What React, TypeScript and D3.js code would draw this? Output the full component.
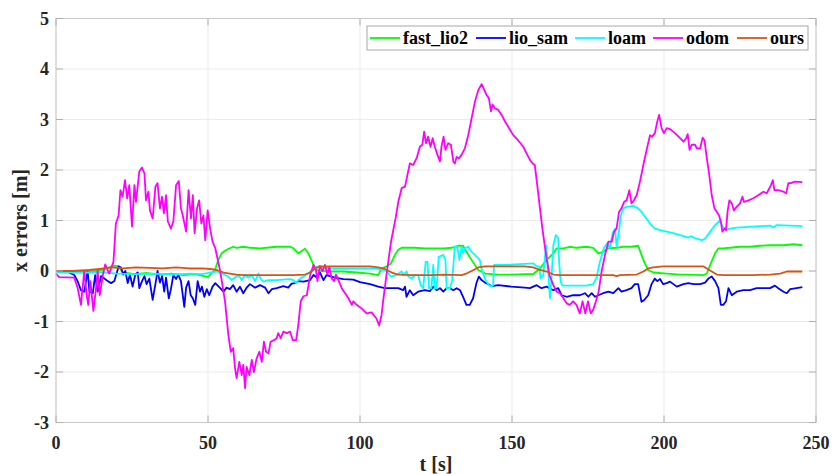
import React from "react";
import * as d3 from "d3";

// time series: [t (s), x error (m)]
const fastLio2: [number, number][] = [
  [0, 0], [5, -0.01], [10, -0.02], [14, 0], [17, 0.06], [18.6, 0.1], [20.3, 0.1], [22, -0.03], [26, -0.06],
  [30, -0.04], [34, -0.07], [38, -0.05], [42, -0.08], [46, -0.06], [50, -0.12], [51.5, -0.02], [52.3, 0.02],
  [53.4, 0.22], [54.5, 0.35], [56.1, 0.42], [58.3, 0.48], [59.4, 0.46], [61.6, 0.48], [64, 0.46], [67.1, 0.45],
  [69.3, 0.46], [72.6, 0.48], [77, 0.48], [78.1, 0.45], [79.7, 0.35], [81.9, 0.44], [83, 0.35], [84.7, 0.12],
  [85.8, 0.02], [87.4, 0], [90.1, -0.01], [94.5, -0.01], [98.9, -0.03], [103.3, -0.05], [106, -0.08],
  [107.1, 0.05], [108.7, 0.09], [110.2, 0.15], [111.5, 0.32], [112.6, 0.42], [113.7, 0.46], [118, 0.46],
  [121.3, 0.45], [124.6, 0.45], [127.9, 0.45], [130.1, 0.46], [132.3, 0.5], [133.9, 0.5], [135, 0.38],
  [136.7, 0.22], [138.9, 0.02], [141.1, -0.05], [145.5, -0.07], [149.8, -0.07], [154.2, -0.06], [157, -0.06],
  [159.2, 0.05], [161.4, 0.22], [163.6, 0.35], [164.7, 0.45], [166.9, 0.45], [169, 0.48], [171.2, 0.46],
  [174.5, 0.48], [176.7, 0.46], [178.4, 0.35], [180, 0.38], [181.7, 0.45], [184.4, 0.46], [186.6, 0.48],
  [189.3, 0.48], [191.5, 0.5], [192.6, 0.32], [193.7, 0.15], [194.8, 0.02], [196.5, -0.03], [200.9, -0.05],
  [205.3, -0.07], [207.5, -0.07], [213, -0.08], [214.1, -0.05], [215.2, 0.12], [216.8, 0.35], [217.9, 0.45],
  [219.5, 0.45], [221.7, 0.46], [225, 0.48], [228.3, 0.48], [231.6, 0.5], [234.9, 0.51], [239.3, 0.51],
  [242.6, 0.53], [245.5, 0.51],
];

const lioSam: [number, number][] = [
  [0, 0], [3.3, 0], [6, -0.08], [7.1, -0.2], [8.2, -0.38], [9.3, -0.41], [10.4, 0], [11, -0.41], [12.1, -0.44],
  [12.9, -0.08], [13.7, -0.41], [14.8, -0.1], [15.9, -0.15], [17, -0.2], [18.1, -0.24], [19.2, -0.2], [20.6, 0.09],
  [21.4, 0.07], [22.1, -0.07], [22.8, 0], [23.6, -0.24], [24.3, -0.07], [25.2, -0.31], [26.1, -0.07], [26.9, -0.03],
  [27.4, -0.34], [28.3, -0.2], [29.1, -0.1], [29.8, -0.26], [30.7, -0.15], [31.8, -0.57], [32.7, -0.26], [33.4, 0],
  [34.2, -0.23], [34.9, -0.1], [35.6, -0.41], [36.2, -0.13], [37.1, -0.54], [37.8, -0.36], [38.6, -0.08],
  [39.5, -0.16], [40.2, -0.07], [41.1, -0.2], [42.2, -0.71], [42.8, -0.33], [43.6, -0.2], [44.3, -0.48],
  [45, -0.54], [45.8, -0.67], [46.6, -0.2], [47.4, -0.41], [48, -0.31], [48.8, -0.51], [49.6, -0.36],
  [50.4, -0.48], [51.5, -0.31], [52.4, -0.24], [54, -0.34], [55.1, -0.41], [56.1, -0.33], [57.2, -0.36],
  [58.3, -0.28], [59.4, -0.41], [60.5, -0.31], [61.6, -0.44], [62.7, -0.33], [63.8, -0.26], [65.5, -0.33],
  [67.1, -0.28], [68.8, -0.33], [69.9, -0.44], [71, -0.36], [72.6, -0.34], [74.8, -0.3], [76.4, -0.33],
  [77.5, -0.25], [78.6, -0.24], [79.7, -0.2], [81.4, -0.21], [83.6, -0.18], [84.7, -0.08], [85.8, -0.13],
  [86.8, -0.03], [88, -0.18], [89, -0.08], [90.1, -0.1], [91.8, -0.13], [94.5, -0.16], [97.8, -0.17],
  [100, -0.22], [103.3, -0.26], [106, -0.31], [108.2, -0.34], [110.4, -0.34], [112.6, -0.34], [114.2, -0.38],
  [114.8, -0.31], [115.3, -0.51], [116.4, -0.38], [117.5, -0.48], [119.1, -0.41], [121.3, -0.38], [123, -0.4],
  [124.1, -0.31], [125.2, -0.38], [126.3, -0.34], [127.4, -0.41], [128.5, -0.34], [129.6, -0.34], [130.7, -0.38],
  [131.8, -0.34], [132.9, -0.38], [133.9, -0.51], [135, -0.67], [136.1, -0.67], [137.2, -0.54], [138.3, -0.24],
  [139.1, -0.11], [140, -0.18], [141.1, -0.23], [142.2, -0.26], [143.3, -0.3], [145.5, -0.28], [149.8, -0.31],
  [154.2, -0.33], [155.9, -0.34], [158.1, -0.28], [159.7, -0.34], [161.4, -0.31], [163.6, -0.38], [165.2, -0.34],
  [166.3, -0.48], [168, -0.51], [170.1, -0.48], [172.3, -0.48], [174, -0.44], [175.1, -0.51], [176.2, -0.44],
  [177.3, -0.51], [178.4, -0.48], [180, -0.44], [181.7, -0.41], [183.3, -0.44], [185, -0.34], [186, -0.41],
  [187.7, -0.38], [189.3, -0.34], [190.4, -0.26], [191.5, -0.26], [192.6, -0.61], [193.4, -0.58], [194.8, -0.48],
  [195.9, -0.26], [197, -0.15], [197.8, -0.2], [198.7, -0.16], [199.7, -0.26], [200.9, -0.24], [202, -0.21],
  [203.1, -0.26], [204.2, -0.31], [206.4, -0.26], [208, -0.24], [209.7, -0.26], [211.9, -0.26], [213.5, -0.23],
  [214.6, -0.15], [215.7, -0.11], [216.8, -0.2], [217.9, -0.34], [218.7, -0.67], [219.5, -0.67], [220.4, -0.6],
  [221.2, -0.34], [222.3, -0.48], [223.9, -0.41], [226.1, -0.38], [228.3, -0.38], [230.5, -0.34], [232.7, -0.34],
  [234.9, -0.34], [236.5, -0.29], [237.6, -0.34], [239.3, -0.41], [240.4, -0.44], [241.5, -0.36], [243.6, -0.34],
  [245.5, -0.32],
];

const loam: [number, number][] = [
  [0, -0.02], [8, -0.03], [16, -0.03], [20, -0.05], [26, -0.06], [32, -0.05], [38, -0.07], [44, -0.05],
  [48, -0.06], [50.7, -0.03], [52.9, -0.01], [54.5, -0.05], [55.6, -0.08], [56.7, -0.11], [57.8, -0.18],
  [58.9, -0.13], [60, -0.08], [61.1, -0.18], [62.2, -0.08], [63.3, -0.13], [64.4, -0.08], [65.5, -0.2],
  [66.6, -0.05], [67.3, -0.15], [68.2, -0.21], [69.9, -0.18], [72.6, -0.18], [77, -0.16], [78.1, -0.18],
  [79, -0.24], [79.7, -0.18], [81.4, -0.11], [83, -0.05], [84.7, 0.05], [86.3, 0.09], [88.5, 0.07], [90.1, 0.05],
  [94.5, 0.05], [98.9, 0.05], [103.3, 0.05], [104.9, 0.05], [107.6, 0.02], [108.7, 0], [110.2, -0.11],
  [112, -0.08], [113.7, -0.01], [114.2, -0.08], [115.3, -0.01], [115.9, -0.11], [117, -0.15], [118, -0.08],
  [119.1, -0.08], [120, -0.28], [120.8, -0.34], [121.6, 0.18], [122.2, 0.18], [122.7, -0.34], [123.5, -0.34],
  [124.1, 0.12], [124.6, -0.34], [125.2, -0.34], [125.9, 0.28], [127.4, 0.32], [128.1, 0.22], [128.5, -0.34],
  [129.6, -0.34], [130.3, -0.2], [131.2, 0.48], [131.9, 0.48], [132.3, 0.38], [132.7, 0.22], [133.4, 0.48],
  [133.9, 0.35], [134.5, 0.45], [135.6, 0.48], [136.7, 0.38], [137.8, 0.32], [139.4, 0.22], [140, 0.05],
  [140.5, -0.05], [141.3, -0.18], [142.4, -0.28], [143.3, -0.31], [143.8, -0.28], [144.1, 0.12], [144.9, 0.12],
  [147.7, 0.12], [150.9, 0.13], [154.2, 0.14], [157, 0.15], [158.1, 0.09], [159, 0.09], [159.4, -0.15],
  [160.3, -0.08], [161.2, 0.51], [162, -0.08], [162.5, -0.54], [163, -0.15], [163.6, 0.51], [164.4, 0.71],
  [165.2, 0.65], [165.5, 0.18], [166, -0.21], [166.6, -0.29], [168, -0.29], [171.2, -0.29], [174.5, -0.29],
  [176.7, -0.26], [177.8, -0.13], [178.9, 0.18], [180.2, 0.45], [181.3, 0.55], [182.2, 0.45], [183.1, 0.75],
  [183.9, 0.84], [184.4, 0.48], [185.3, 0.84], [185.8, 1.1], [186.6, 1.24], [187.7, 1.27], [189.9, 1.29],
  [191.5, 1.24], [192.6, 1.17], [193.7, 1.08], [195.4, 0.94], [197, 0.84], [198.7, 0.81], [200.9, 0.78],
  [203, 0.75], [205.3, 0.71], [208, 0.66], [208.8, 0.69], [210.2, 0.65], [212.4, 0.61], [213.5, 0.64],
  [215.2, 0.78], [216.8, 0.91], [218.4, 1.0], [219.3, 0.88], [220.6, 0.81], [221.7, 0.84], [223.9, 0.86],
  [229.4, 0.88], [234.9, 0.9], [236, 0.86], [237.1, 0.91], [241.5, 0.9], [245.5, 0.89],
];

const odom: [number, number][] = [
  [0, -0.05], [1, -0.12], [6, -0.13], [7.1, -0.33], [8.2, -0.67], [9.3, 0], [10.1, -0.48], [10.6, -0.67],
  [11.3, -0.2], [12.3, -0.79], [13.2, -0.33], [13.7, 0], [14.4, -0.48], [15.4, -0.08], [16.2, 0.13],
  [17.5, -0.05], [18.9, 0.18], [19.7, 0.94], [20.6, 1.1], [21.2, 1.6], [21.9, 1.47], [22.7, 1.8], [23.4, 1.44],
  [24.1, 1.7], [25, 0.88], [25.8, 1.7], [26.3, 1.37], [27.4, 1.97], [28.3, 2.05], [29.1, 1.93], [29.6, 1.4],
  [30.4, 1.57], [30.9, 1.2], [31.8, 1.04], [32.7, 1.67], [33.4, 1.74], [34.2, 1.24], [34.9, 1.47], [35.5, 1.14],
  [36.2, 1.5], [36.8, 0.98], [37.8, 0.84], [38.6, 0.98], [39.5, 1.7], [40.4, 1.78], [41.1, 1.24], [41.7, 1.1],
  [42.8, 0.78], [43.6, 1.6], [44.4, 1.04], [45, 1.5], [45.6, 0.75], [46.4, 1.24], [47.1, 1.4], [47.8, 0.94],
  [48.5, 1.1], [49.1, 0.61], [49.9, 1.2], [50.7, 0.84], [51.5, 0.58], [52.4, 0.45], [54, 0], [55.6, -0.6],
  [56.7, -1.27], [57.5, -1.6], [58.3, -1.53], [58.9, -1.93], [59.4, -2.12], [60.3, -1.8], [61.1, -2.06],
  [61.6, -1.86], [62.2, -2.32], [62.7, -1.9], [63.6, -2.06], [64.4, -1.76], [65.1, -2.0], [66, -1.73],
  [66.9, -1.6], [67.7, -1.8], [68.4, -1.4], [69.1, -1.6], [69.9, -1.63], [70.6, -1.4], [71.7, -1.37],
  [72.6, -1.33], [73.1, -1.23], [73.9, -1.33], [74.8, -1.2], [75.9, -1.23], [77, -1.2], [77.9, -1.37],
  [79, -1.37], [79.7, -1.07], [80.5, -0.6], [81.4, -0.5], [82.5, -0.48], [83.6, -0.08], [84.7, 0.12],
  [85.5, 0.02], [86, -0.2], [86.8, 0.1], [87.7, 0], [88.5, 0.12], [89.3, -0.07], [89.9, 0.08], [90.7, -0.15],
  [91.5, -0.2], [92.1, -0.07], [92.9, -0.18], [94, -0.34], [95.1, -0.44], [96.2, -0.54], [97.3, -0.67],
  [97.8, -0.6], [98.9, -0.67], [100.5, -0.74], [102.2, -0.84], [103.8, -0.82], [105.4, -0.94], [106.3, -1.08],
  [107.1, -0.87], [107.6, -0.6], [108.7, -0.08], [110.2, 0.58], [111.7, 1.04], [112.6, 1.37], [113.7, 1.64],
  [114.8, 1.67], [115.6, 1.9], [116.4, 2.13], [117.5, 2.1], [118.6, 2.23], [119.7, 2.46], [120.5, 2.5],
  [121.1, 2.76], [121.7, 2.53], [122.4, 2.66], [123.2, 2.46], [123.9, 2.63], [124.6, 2.46], [125.5, 2.3],
  [126.3, 2.17], [126.8, 2.46], [127.5, 2.66], [128.1, 2.4], [129, 2.53], [129.9, 2.5], [130.7, 2.17],
  [131.2, 2.13], [131.8, 2.26], [132.5, 2.23], [133.4, 2.3], [134.5, 2.43], [135.6, 2.69], [136.7, 3.02],
  [137.8, 3.35], [138.9, 3.58], [140, 3.7], [140.9, 3.58], [141.6, 3.49], [142.4, 3.42], [143.1, 3.16],
  [143.6, 3.3], [144.4, 3.22], [145.5, 3.19], [146.6, 3.09], [147.7, 2.96], [149, 2.83], [150.4, 2.69],
  [152, 2.59], [153.7, 2.46], [154.8, 2.33], [155.9, 2.2], [156.8, 2.13], [157.5, 2.1], [158.3, 1.7],
  [159.2, 1.24], [160, 0.84], [161.2, 0.32], [162.3, -0.08], [163.6, -0.28], [164.7, -0.41], [165.8, -0.44],
  [166.9, -0.54], [168, -0.64], [169, -0.67], [170.1, -0.6], [171.2, -0.67], [172.3, -0.84], [173.2, -0.6],
  [174.1, -0.84], [175, -0.6], [175.9, -0.84], [176.7, -0.77], [177.6, -0.6], [178.5, -0.41], [179.5, 0],
  [180.6, 0.32], [181.7, 0.58], [182.8, 0.58], [183.6, 0.78], [184.4, 0.84], [185.2, 1.17], [186, 1.24],
  [186.9, 1.37], [187.7, 1.4], [188.6, 1.6], [189.3, 1.34], [190.1, 1.4], [191, 1.5], [192.1, 1.77],
  [193.2, 2.1], [194.3, 2.4], [195.4, 2.69], [196.1, 2.66], [197, 2.73], [197.8, 2.96], [198.4, 3.09],
  [199.2, 2.83], [200, 2.73], [200.9, 2.83], [202, 2.81], [203.6, 2.73], [205.3, 2.63], [206.4, 2.56],
  [207.3, 2.63], [207.8, 2.71], [208.4, 2.4], [209.1, 2.5], [210.2, 2.5], [210.8, 2.43], [211.9, 2.43],
  [212.7, 2.64], [213.3, 2.59], [214.1, 2.23], [214.9, 1.9], [215.7, 1.5], [216.6, 1.24], [217.4, 1.17],
  [218.1, 1.1], [218.7, 0.98], [219.2, 0.78], [219.9, 0.84], [220.4, 0.81], [220.9, 1.17], [221.5, 1.4],
  [222.3, 1.34], [223, 1.2], [223.9, 1.27], [225, 1.34], [225.8, 1.47], [226.3, 1.37], [227.8, 1.4],
  [229.4, 1.44], [231, 1.5], [232.7, 1.57], [233.8, 1.54], [235.2, 1.7], [235.8, 1.8], [236.3, 1.6],
  [237.6, 1.6], [239.3, 1.57], [240.2, 1.54], [240.9, 1.74], [241.7, 1.74], [243.1, 1.77], [245.5, 1.76],
];

const ours: [number, number][] = [
  [0, 0], [5.5, 0], [11, 0.02], [14.3, 0.04], [18.6, 0.07], [21.9, 0.05], [26.3, 0.07], [30.7, 0.06],
  [35.1, 0.05], [39.5, 0.07], [43.9, 0.05], [48.2, 0.05], [50.7, 0.04], [52.9, 0.02], [55.1, -0.03],
  [57.2, -0.05], [59.4, -0.07], [61.6, -0.08], [67.1, -0.08], [72.6, -0.08], [78.1, -0.08], [81.9, -0.07],
  [83.6, -0.03], [85.2, 0.05], [86.8, 0.09], [90.1, 0.09], [94.5, 0.09], [98.9, 0.09], [103.3, 0.09],
  [106, 0.07], [108.2, 0.04], [110.4, -0.03], [112.6, -0.07], [117, -0.08], [123.5, -0.08], [127.9, -0.07],
  [133.4, -0.08], [135, -0.05], [136.7, 0], [138.9, 0.07], [141.1, 0.09], [147.7, 0.09], [154.2, 0.09],
  [157, 0.07], [159.2, 0.02], [161.4, -0.01], [163.6, -0.07], [165.8, -0.08], [174.5, -0.08], [183.3, -0.08],
  [184.4, -0.1], [185.5, -0.08], [191, -0.07], [193.2, -0.01], [194.8, 0.05], [196.5, 0.07], [199.7, 0.09],
  [205.2, 0.09], [213, 0.09], [214.1, 0.05], [215.7, -0.01], [217.4, -0.07], [219.5, -0.08], [229.4, -0.08],
  [234.9, -0.07], [238.2, -0.05], [240.4, -0.01], [245.5, -0.01],
];

const seriesNames = ["fast_lio2", "lio_sam", "loam", "odom", "ours"];
const seriesColors = ["#00ff00", "#0000ff", "#00ffff", "#ff00ff", "#d95319"];
const seriesData = [fastLio2, lioSam, loam, odom, ours];

const xTicks = [0, 50, 100, 150, 200, 250];
const yTicks = [-3, -2, -1, 0, 1, 2, 3, 4, 5];

const width = 832;
const height = 474;
const margin = { left: 56, right: 16, top: 18.5, bottom: 51.5 };
const font = '"Liberation Serif", "Times New Roman", Times, "DejaVu Serif", serif';

// legend layout: x of each line sample start
const legendX = [370, 476, 575, 653, 737];

export default function App() {
  const x = d3.scaleLinear().domain([0, 250]).range([margin.left, width - margin.right]);
  const y = d3.scaleLinear().domain([-3, 5]).range([height - margin.bottom, margin.top]);
  const line = d3
    .line<[number, number]>()
    .x((d) => x(d[0]))
    .y((d) => y(d[1]));

  const x0 = x(0);
  const x1 = x(250);
  const y0 = y(-3);
  const y1 = y(5);
  const textStyle = { fontFamily: font, fontWeight: 700 };

  return (
    <svg
      width={width}
      height={height}
      style={{ position: "absolute", left: 0, top: 0, background: "#fff", fontFamily: font }}
    >
      {/* grid */}
      {xTicks.map((t) => (
        <line key={"gx" + t} x1={x(t)} x2={x(t)} y1={y0} y2={y1} stroke="#ebebeb" strokeWidth={1} />
      ))}
      {yTicks.map((t) => (
        <line key={"gy" + t} x1={x0} x2={x1} y1={y(t)} y2={y(t)} stroke="#ebebeb" strokeWidth={1} />
      ))}

      {/* series */}
      {seriesData.map((d, i) => (
        <path
          key={seriesNames[i]}
          d={line(d) || ""}
          fill="none"
          stroke={seriesColors[i]}
          strokeWidth={1.8}
          strokeLinejoin="round"
        />
      ))}

      {/* box and ticks */}
      <rect x={x0} y={y1} width={x1 - x0} height={y0 - y1} fill="none" stroke="#c8c8c8" strokeWidth={1} />
      {xTicks.map((t) => (
        <g key={"tx" + t}>
          <line x1={x(t)} x2={x(t)} y1={y0} y2={y0 - 7} stroke="#b0b0b0" />
          <line x1={x(t)} x2={x(t)} y1={y1} y2={y1 + 7} stroke="#b0b0b0" />
          <text x={x(t)} y={y0 + 26} textAnchor="middle" fontSize={18} fill="#262626" style={textStyle}>
            {t}
          </text>
        </g>
      ))}
      {yTicks.map((t) => (
        <g key={"ty" + t}>
          <line x1={x0} x2={x0 + 7} y1={y(t)} y2={y(t)} stroke="#b0b0b0" />
          <line x1={x1} x2={x1 - 7} y1={y(t)} y2={y(t)} stroke="#b0b0b0" />
          <text
            x={x0 - 7}
            y={y(t)}
            dy="0.35em"
            textAnchor="end"
            fontSize={18}
            fill="#262626"
            style={textStyle}
          >
            {t}
          </text>
        </g>
      ))}

      {/* axis labels */}
      <text x={(x0 + x1) / 2} y={471} textAnchor="middle" fontSize={20} fill="#262626" style={textStyle}>
        t [s]
      </text>
      <text
        transform={`translate(27,${(y0 + y1) / 2}) rotate(-90)`}
        textAnchor="middle"
        fontSize={20}
        fill="#262626"
        style={textStyle}
      >
        x errors [m]
      </text>

      {/* legend */}
      <rect x={367} y={26} width={441} height={24} fill="#fff" stroke="#a8a8a8" strokeWidth={1} />
      {seriesNames.map((name, i) => (
        <g key={"lg" + name}>
          <line
            x1={legendX[i]}
            x2={legendX[i] + 30}
            y1={38}
            y2={38}
            stroke={seriesColors[i]}
            strokeWidth={1.8}
          />
          <text x={legendX[i] + 33} y={38} dy="0.35em" fontSize={18} fill="#000" style={textStyle}>
            {name}
          </text>
        </g>
      ))}
    </svg>
  );
}
